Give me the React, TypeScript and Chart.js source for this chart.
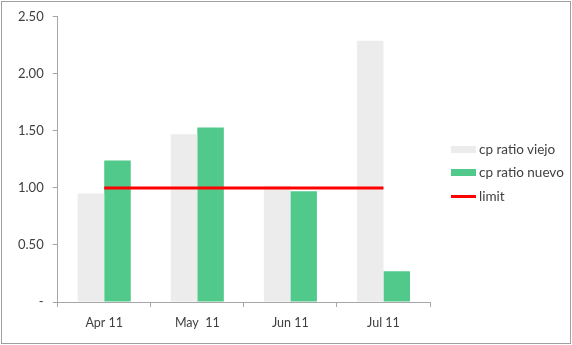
import React, { useEffect, useRef } from "react";
import { Chart, registerables } from "chart.js";

Chart.register(...registerables);

const categories = ["Apr 11", "May  11", "Jun 11", "Jul 11"];
const viejoValues = [0.95, 1.47, 1.02, 2.29];
const nuevoValues = [1.24, 1.53, 0.97, 0.27];
const limitValues = [1, 1, 1, 1];
const seriesNames = ["cp ratio viejo", "cp ratio nuevo", "limit"];

const FONT = "Lato, 'Open Sans', sans-serif";
const TEXT = "#404040";
const AXIS = "#a6a6a6";
const GRAY = "#ececec";
const GREEN = "#50c98a";
const RED = "#ff0000";

export default function App() {
  const ref = useRef<HTMLCanvasElement | null>(null);

  useEffect(() => {
    document.body.style.margin = "0";
    if (!ref.current) return;
    const chart = new Chart(ref.current, {
      type: "bar",
      data: {
        labels: categories,
        datasets: [
          {
            type: "bar",
            label: seriesNames[0],
            data: viejoValues,
            backgroundColor: GRAY,
            borderWidth: 0,
            order: 1,
            categoryPercentage: 0.57,
            barPercentage: 1,
          },
          {
            type: "bar",
            label: seriesNames[1],
            data: nuevoValues,
            backgroundColor: GREEN,
            borderWidth: 0,
            order: 1,
            categoryPercentage: 0.57,
            barPercentage: 1,
          },
          {
            type: "line",
            label: seriesNames[2],
            data: limitValues,
            borderColor: RED,
            backgroundColor: RED,
            borderWidth: 3,
            pointRadius: 0,
            order: 0,
          },
        ] as any,
      },
      options: {
        animation: false,
        responsive: true,
        maintainAspectRatio: false,
        layout: { padding: { left: 9, right: 142, top: 8, bottom: 7 } },
        plugins: { legend: { display: false }, tooltip: { enabled: false } },
        scales: {
          x: {
            grid: {
              display: true,
              drawOnChartArea: false,
              tickLength: 5,
              color: AXIS,
              offset: true,
            },
            border: { color: AXIS, width: 1 },
            ticks: {
              color: TEXT,
              font: { family: FONT, size: 12.5 },
              padding: 8,
              maxRotation: 0,
            },
          },
          y: {
            min: 0,
            max: 2.5,
            grid: {
              display: true,
              drawOnChartArea: false,
              tickLength: 5,
              color: AXIS,
            },
            border: { color: AXIS, width: 1 },
            ticks: {
              stepSize: 0.5,
              color: TEXT,
              font: { family: FONT, size: 13 },
              padding: 9,
              callback: (v: any) => (Number(v) === 0 ? "-" : Number(v).toFixed(2)),
            },
          },
        },
      },
    });
    return () => chart.destroy();
  }, []);

  const row = (swatch: React.ReactNode, text: string, top: number) => (
    <div
      style={{
        position: "absolute",
        left: 451,
        top,
        display: "flex",
        alignItems: "center",
        height: 16,
        fontFamily: FONT,
        fontSize: 13.5,
        color: TEXT,
        whiteSpace: "pre",
      }}
    >
      <div style={{ width: 28, display: "flex", alignItems: "center" }}>{swatch}</div>
      <span>{text}</span>
    </div>
  );

  return (
    <div style={{ position: "relative", width: 572, height: 345 }}>
      <canvas ref={ref} width={572} height={345} />
      <div
        style={{
          position: "absolute",
          left: 1,
          top: 1,
          width: 570,
          height: 343,
          boxSizing: "border-box",
          border: "1px solid #a0a0a0",
          pointerEvents: "none",
        }}
      />
      {row(<div style={{ width: 25, height: 7, background: GRAY }} />, seriesNames[0], 141)}
      {row(<div style={{ width: 25, height: 7, background: GREEN }} />, seriesNames[1], 164)}
      {row(<div style={{ width: 25, height: 3, background: RED }} />, seriesNames[2], 188)}
    </div>
  );
}
